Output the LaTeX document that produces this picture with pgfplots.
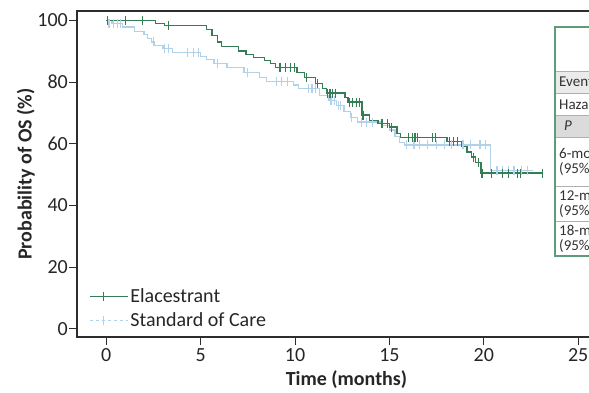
\documentclass[border=0pt]{standalone}
\usepackage{fontspec}
\setmainfont{Carlito}
\usepackage{pgfplots}
\pgfplotsset{compat=1.18}
\definecolor{elagreen}{RGB}{52,125,85}
\definecolor{socblue}{RGB}{178,210,234}
\definecolor{axisgray}{RGB}{45,45,45}
\definecolor{tabgreen}{RGB}{95,155,120}
\definecolor{tabline}{RGB}{175,175,175}
\begin{document}
\begin{tikzpicture}
\useasboundingbox (0pt,0pt) rectangle (589pt,392pt);
\clip (0pt,0pt) rectangle (589pt,392pt);
\begin{axis}[
  at={(77pt,55pt)}, anchor=south west,
  scale only axis, width=539pt, height=326pt,
  xmin=-1.55, xmax=27, ymin=-2.6, ymax=103,
  axis line style={axisgray, line width=1.5pt},
  xtick={0,5,10,15,20,25}, ytick={0,20,40,60,80,100},
  xtick pos=left, ytick pos=left, tick align=outside,
  major tick length=8pt,
  tick style={axisgray, line width=1pt},
  /pgf/number format/assume math mode=true,
  ticklabel style={font=\fontsize{20}{24}\selectfont, text=black!85},
  yticklabel style={inner xsep=1pt},
  xticklabel style={inner ysep=3pt},
  xlabel={\textbf{Time (months)}},
  ylabel={\textbf{Probability of OS (\%)}},
  label style={font=\fontsize{20}{24}\selectfont, text=black!85},
  xlabel style={inner ysep=0pt, yshift=-6pt},
  ylabel style={yshift=-2pt},
  legend cell align=left,
  legend style={draw=none, fill=none, at={(axis description cs:0,0)}, anchor=south west,
    xshift=9pt, yshift=5pt, font=\fontsize{20}{24}\selectfont, text=black!85,
    row sep=4.5pt},
  legend image code/.code={\path (0pt,0pt) -- (38pt,0pt); \draw[#1] (0pt,0pt) -- (27pt,0pt); \draw[#1,solid] (13.5pt,-4.5pt) -- (13.5pt,4.5pt);},
]
\addlegendimage{elagreen, line width=1.2pt}
\addlegendentry{Elacestrant}
\addlegendimage{socblue, line width=1.2pt, dashed}
\addlegendentry{Standard of Care}
% Standard of care step curve
\addplot[const plot, socblue, line width=1.3pt, forget plot] coordinates {
(0,100)(0.3,99)(0.85,97.8)(1.5,96.3)(2.0,95.5)(2.2,94.2)(2.4,93)(2.55,91.8)(3.0,90.8)(3.5,89.5)(5.0,88.3)(5.3,87.3)(5.7,86)(6.4,84.8)(7.3,83)(8.1,81.4)(8.5,80.2)(9.9,79)(10.2,78)(11.3,75.7)(11.8,74)(12.2,72.5)(12.6,70.5)(12.95,68.6)(13.3,67)(14.6,66)(15.0,64.5)(15.3,62.3)(15.55,60.5)(15.8,59.6)(20.35,51.3)(22.6,51.3)};
\addplot[only marks, mark=|, mark size=4.5pt, socblue, line width=1.2pt, forget plot] coordinates {
(0.15,99)(0.4,99)(0.6,99)(0.75,99)(2.5,93)(3.1,90.8)(3.3,90.8)(4.3,89.5)(4.6,89.5)(4.9,89.5)(5.9,86)(7.5,83)(9.0,80.2)(9.3,80.2)(9.6,80.2)(10.7,78)(10.9,78)(11.1,78)(11.9,74)(12.1,74)(12.3,72.5)(12.4,72.5)(13.0,68.6)(13.5,67)(13.8,67)(14.1,67)(15.9,59.6)(16.3,59.6)(16.6,59.6)(17.0,59.6)(17.5,59.6)(17.9,59.6)(18.3,59.6)(18.9,59.6)(19.3,59.6)(19.8,59.6)(20.1,59.6)(20.7,51.3)(21.0,51.3)(21.3,51.3)(21.6,51.3)(22.0,51.3)(22.3,51.3)};
% Elacestrant step curve
\addplot[const plot, elagreen, line width=1.3pt, forget plot] coordinates {
(0,100)(2.6,99)(3.1,98.2)(5.3,97)(5.6,95)(5.9,93)(6.1,91.5)(7.0,90)(7.4,89)(7.8,88)(8.4,87)(8.7,86)(8.95,84.8)(10.1,83)(10.5,81.5)(11.1,79.6)(11.45,78)(11.65,76.4)(12.65,75)(12.8,73.5)(13.55,69.3)(13.95,67.6)(14.4,66.6)(15.0,65.4)(15.4,63.4)(15.6,62)(18.05,60.8)(18.85,59)(19.1,57.3)(19.35,55.7)(19.55,54)(19.85,50.5)(23.1,50.5)};
\addplot[only marks, mark=|, mark size=4.5pt, elagreen, line width=1.2pt, forget plot] coordinates {
(0.05,100)(1.0,100)(1.9,100)(3.3,98.2)(9.2,84.8)(9.5,84.8)(9.75,84.8)(9.95,84.8)(10.6,81.5)(11.2,79.6)(11.7,76.4)(11.85,76.4)(12.0,76.4)(12.15,76.4)(12.9,73.5)(13.05,73.5)(13.25,73.5)(13.4,73.5)(13.6,69.3)(14.6,66.6)(14.9,66.6)(15.1,65.4)(16.0,62)(16.2,62)(16.35,62)(16.5,62)(17.3,62)(17.45,62)(18.2,60.8)(18.4,60.8)(18.6,60.8)(19.45,55.7)(19.7,54)(19.9,50.5)(20.4,50.5)(21.0,50.5)(21.3,50.5)(21.8,50.5)(21.95,50.5)(23.1,50.5)};
\end{axis}
% partially visible table on the right
\fill[black!8] (555pt,321pt) rectangle (600pt,299pt);
\fill[black!14] (555pt,277pt) rectangle (600pt,255pt);
\foreach \yy in {321,299,277,255,206,171}{\draw[tabline, line width=0.8pt] (555pt,\yy pt) -- (600pt,\yy pt);}
\draw[tabgreen, line width=1.5pt] (600pt,365pt) -- (555pt,365pt) -- (555pt,136pt) -- (600pt,136pt);
\begin{scope}[every node/.style={font=\fontsize{15}{17}\selectfont, text=black!80, anchor=west, inner sep=0pt}]
\node at (559pt,310pt) {Events};
\node at (559pt,288pt) {Hazard ratio};
\node at (564pt,266pt) {\itshape P};
\node at (559pt,239pt) {6-month};
\node at (559pt,223pt) {(95\% CI)};
\node at (559pt,197pt) {12-month};
\node at (559pt,181pt) {(95\% CI)};
\node at (559pt,162pt) {18-month};
\node at (559pt,146pt) {(95\% CI)};
\end{scope}
\end{tikzpicture}
\end{document}
